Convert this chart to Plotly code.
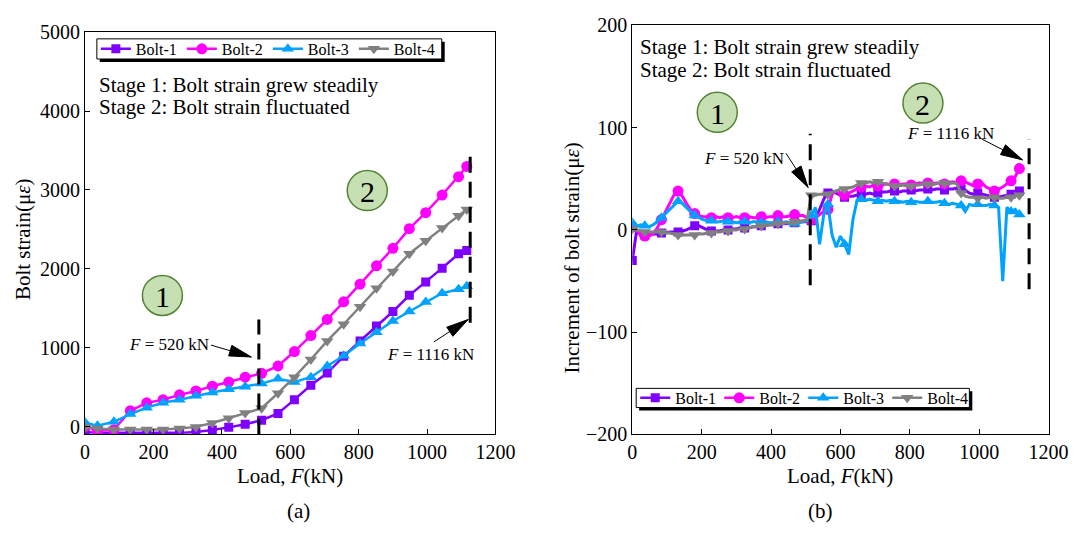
import math
import plotly.graph_objects as go

# ---------------- data (a): bolt strain vs load ----------------
LOAD = [0, 36, 84, 132, 180, 228, 276, 324, 372, 420, 468, 516, 564, 612, 660,
        708, 756, 804, 852, 900, 948, 996, 1044, 1092, 1116]
STRAIN_B1 = [-70, -80, -80, -80, -80, -80, -80, -70, -45, -10, 30, 80, 167, 341, 524,
             679, 890, 1085, 1276, 1459, 1663, 1833, 2008, 2191, 2232]
STRAIN_B2 = [0, -50, -40, 200, 301, 341, 402, 451, 512, 565, 626, 675, 768, 951, 1154,
             1358, 1581, 1805, 2037, 2260, 2508, 2711, 2935, 3167, 3297]
STRAIN_B3 = [50, 10, 60, 159, 240, 301, 341, 390, 431, 472, 504, 545, 606, 565, 626,
             768, 898, 1053, 1195, 1338, 1459, 1580, 1690, 1740, 1780]
STRAIN_B4 = [-4, -24, -37, -37, -37, -37, -24, -4, 45, 106, 171, 232, 423, 626, 850,
             1085, 1297, 1520, 1752, 1967, 2191, 2354, 2516, 2671, 2752]

# ---------------- data (b): increment of bolt strain ----------------
LOAD_INC = [0, 12, 24, 36, 48, 60, 72, 84, 96, 108,
            120, 132, 144, 156, 168, 180, 192, 204, 216, 228,
            240, 252, 264, 276, 288, 300, 312, 324, 336, 348,
            360, 372, 384, 396, 408, 420, 432, 444, 456, 468,
            480, 492, 504, 516, 528, 540, 552, 564, 576, 588,
            600, 612, 624, 636, 648, 660, 672, 684, 696, 708,
            720, 732, 744, 756, 768, 780, 792, 804, 816, 828,
            840, 852, 864, 876, 888, 900, 912, 924, 936, 948,
            960, 972, 984, 996, 1008, 1020, 1032, 1044, 1056, 1068,
            1080, 1092, 1104, 1116]
INC_B1 = [-30, -2, -4, -5, -5, -4, -4, -3, -3, -2,
          -2, -2, -1, 0, 2, 4, 4, 2, 0, -1,
          -1, -1, 0, 0, 1, 1, 2, 2, 2, 3,
          3, 4, 4, 5, 5, 6, 6, 6, 7, 7,
          8, 8, 8, 9, 12, 20, 30, 36, 38, 36,
          34, 32, 33, 33, 34, 35, 35, 36, 35, 36,
          37, 37, 38, 38, 37, 38, 38, 39, 38, 39,
          39, 40, 39, 40, 40, 39, 40, 40, 41, 40,
          39, 36, 35, 36, 35, 34, 33, 32, 32, 33,
          34, 35, 37, 38]
INC_B2 = [3, 0, -5, -6, -6, -4, 2, 10, 18, 27,
          34, 38, 33, 26, 20, 16, 14, 13, 13, 12,
          13, 12, 13, 12, 12, 13, 12, 12, 13, 12,
          12, 13, 12, 13, 13, 14, 13, 13, 14, 15,
          14, 14, 12, 10, 12, 15, 18, 20, 35, 38,
          36, 34, 36, 38, 40, 42, 43, 42, 44, 43,
          44, 45, 44, 45, 44, 45, 45, 44, 45, 46,
          45, 46, 45, 46, 46, 45, 46, 47, 46, 48,
          47, 45, 43, 45, 46, 42, 40, 38, 40, 42,
          45, 48, 52, 60]
INC_B3 = [7, 3, 5, 4, 3, 5, 8, 12, 16, 21,
          25, 28, 26, 22, 17, 14, 12, 10, 9, 9,
          8, 8, 9, 8, 8, 7, 8, 8, 7, 8,
          8, 7, 8, 7, 7, 8, 7, 8, 7, 6,
          7, 8, 9, 14, 22, -14, 15, 25, -5, -17,
          -6, -14, -24, 10, 29, 30, 29, 30, 29, 28,
          29, 28, 29, 28, 28, 27, 28, 27, 28, 27,
          27, 28, 27, 27, 28, 26, 25, 26, 25, 24,
          18, 25, 24, 25, 24, 24, 25, 24, 22, -50,
          22, 18, 20, 15]
INC_B4 = [1, 0, -1, -2, -2, -2, -2, -2, -3, -3,
          -4, -5, -5, -5, -5, -5, -4, -4, -3, -3,
          -2, -2, -1, -1, 0, 0, 1, 1, 2, 3,
          3, 4, 4, 5, 5, 6, 6, 7, 7, 8,
          8, 9, 10, 34, 34, 35, 35, 35, 37, 38,
          40, 40, 41, 42, 44, 46, 46, 47, 46, 47,
          46, 45, 44, 43, 43, 44, 43, 43, 44, 44,
          45, 45, 44, 45, 46, 46, 45, 46, 45, 36,
          33, 32, 32, 31, 32, 31, 32, 32, 31, 31,
          32, 32, 33, 34]

NAMES = ["Bolt-1", "Bolt-2", "Bolt-3", "Bolt-4"]
COLORS = ["#7F00FF", "#FF00FF", "#00A2FF", "#808080"]
SYMBOLS = ["square", "circle", "triangle-up", "triangle-down"]
SIZES = [9, 11, 11, 11]

W, H = 1091, 553
FONT = "Liberation Serif"

# plot-area geometry (pixels)
L_X0, L_X1, L_Y0, L_Y1 = 82, 502, 441, 22
R_X0, R_X1, R_Y0, R_Y1 = 642, 1068, 441, 15
XR = [0, 1200]
YR_L = [-100, 5000]
YR_R = [-200, 200]


def px_x(p):
    return p / W


def px_y(p):
    return 1 - p / H


fig = go.Figure()

strain = [STRAIN_B1, STRAIN_B2, STRAIN_B3, STRAIN_B4]
inc = [INC_B1, INC_B2, INC_B3, INC_B4]
mark_idx = [i for i, x in enumerate(LOAD_INC) if x in LOAD]

for k in range(4):
    fig.add_trace(go.Scatter(
        x=LOAD, y=strain[k], name=NAMES[k], mode="lines+markers",
        line=dict(color=COLORS[k], width=2.5),
        marker=dict(symbol=SYMBOLS[k], size=SIZES[k], color=COLORS[k]),
        xaxis="x", yaxis="y", legend="legend"))

for k in range(4):
    fig.add_trace(go.Scatter(
        x=LOAD_INC, y=inc[k], mode="lines", showlegend=False,
        line=dict(color=COLORS[k], width=3), xaxis="x2", yaxis="y2"))
    fig.add_trace(go.Scatter(
        x=[LOAD_INC[i] for i in mark_idx], y=[inc[k][i] for i in mark_idx],
        mode="markers", showlegend=False,
        marker=dict(symbol=SYMBOLS[k], size=SIZES[k], color=COLORS[k]),
        xaxis="x2", yaxis="y2"))
for k in range(4):
    fig.add_trace(go.Scatter(
        x=[None], y=[None], name=NAMES[k], mode="lines+markers",
        line=dict(color=COLORS[k], width=2.5),
        marker=dict(symbol=SYMBOLS[k], size=SIZES[k], color=COLORS[k]),
        xaxis="x2", yaxis="y2", legend="legend2"))

axis_common = dict(showline=True, linecolor="black", linewidth=1, mirror=True,
                   ticks="inside", ticklen=5, tickwidth=1, tickcolor="black",
                   showgrid=False, zeroline=False,
                   tickfont=dict(family=FONT, size=20, color="black"))

legend_common = dict(orientation="h", xanchor="left", yanchor="middle",
                     bgcolor="rgba(0,0,0,0)", borderwidth=0,
                     font=dict(family=FONT, size=16, color="black"),
                     itemwidth=30, tracegroupgap=0)

fig.update_layout(
    width=W, height=H, margin=dict(l=0, r=0, t=0, b=0),
    paper_bgcolor="white", plot_bgcolor="white",
    font=dict(family=FONT, color="black"),
    xaxis=dict(domain=[px_x(L_X0), px_x(L_X1)], range=XR, dtick=200, anchor="y",
               **axis_common),
    yaxis=dict(domain=[px_y(L_Y0), px_y(L_Y1)], range=YR_L, dtick=1000, anchor="x",
               **axis_common),
    xaxis2=dict(domain=[px_x(R_X0), px_x(R_X1)], range=XR, dtick=200, anchor="y2",
                **axis_common),
    yaxis2=dict(domain=[px_y(R_Y0), px_y(R_Y1)], range=YR_R, dtick=100, anchor="x2",
                **axis_common),
    legend=dict(x=px_x(93), y=px_y(39.5), entrywidth=41, **legend_common),
    legend2=dict(x=px_x(645), y=px_y(403), entrywidth=39, **legend_common),
)

ann = []
shapes = []

# legend frames with drop shadow
for (x0, y0, x1, y1) in [(94, 29, 447, 50), (646, 393, 987, 413)]:
    shapes.append(dict(type="rect", xref="paper", yref="paper",
                       x0=px_x(x0 + 3), x1=px_x(x1 + 3), y0=px_y(y1 + 3), y1=px_y(y0 + 3),
                       fillcolor="black", line=dict(width=0), layer="above"))
    shapes.append(dict(type="rect", xref="paper", yref="paper",
                       x0=px_x(x0), x1=px_x(x1), y0=px_y(y1), y1=px_y(y0),
                       fillcolor="white", line=dict(color="black", width=1), layer="above"))


def text(xp, yp, s, size=21, xanchor="center", textangle=0):
    ann.append(dict(x=px_x(xp), y=px_y(yp), xref="paper", yref="paper", text=s,
                    showarrow=False, xanchor=xanchor, yanchor="middle",
                    textangle=textangle,
                    font=dict(family=FONT, size=size, color="black")))


# axis titles and captions
text(292, 484, "Load, <i>F</i>(kN)")
text(855, 484, "Load, <i>F</i>(kN)")
text(18, 238, "Bolt strain(μ<i>ε</i>)", textangle=-90)
text(580, 257, "Increment of bolt strain(μ<i>ε</i>)", textangle=-90)
text(300, 521, "(a)")
text(835, 521, "(b)")

# stage notes
text(94, 77, "Stage 1: Bolt strain grew steadily", xanchor="left")
text(94, 100, "Stage 2: Bolt strain fluctuated", xanchor="left")
text(648, 37, "Stage 1: Bolt strain grew steadily", xanchor="left")
text(648, 61, "Stage 2: Bolt strain fluctuated", xanchor="left")


def circle(xr, yr, xv, yv, label):
    shapes.append(dict(type="circle", xref=xr, yref=yr, xsizemode="pixel", ysizemode="pixel",
                       xanchor=xv, yanchor=yv, x0=-20, x1=20, y0=-20, y1=20,
                       fillcolor="#C6E0B4", line=dict(color="#548235", width=1.5), layer="above"))
    ann.append(dict(x=xv, y=yv, xref=xr, yref=yr, text=label, showarrow=False,
                    font=dict(family=FONT, size=30, color="black"), yshift=-1))


circle("x", "y", 226, 1662, "1")
circle("x", "y", 825, 2991, "2")
circle("x2", "y2", 245, 115, "1")
circle("x2", "y2", 838, 124, "2")


def vdash(xr, yr, xv, y0, y1):
    shapes.append(dict(type="line", xref=xr, yref=yr, x0=xv, x1=xv, y0=y0, y1=y1,
                       line=dict(color="black", width=3, dash="16px,9px"), layer="above"))


vdash("x", "y", 508, -100, 1357)
vdash("x", "y", 1126, 1317, 3472)
vdash("x2", "y2", 513, -54, 94)
vdash("x2", "y2", 1144, -58, 89)

SX_L = (L_X1 - L_X0) / (XR[1] - XR[0])
SY_L = (L_Y0 - L_Y1) / (YR_L[1] - YR_L[0])
SX_R = (R_X1 - R_X0) / (XR[1] - XR[0])
SY_R = (R_Y0 - R_Y1) / (YR_R[1] - YR_R[0])


def arrow(xr, yr, sx, sy, tail, head, label, lxy):
    shapes.append(dict(type="line", xref=xr, yref=yr, x0=tail[0], y0=tail[1],
                       x1=head[0], y1=head[1], line=dict(color="black", width=1),
                       layer="above"))
    dx = (head[0] - tail[0]) * sx
    dy = (head[1] - tail[1]) * sy
    n = math.hypot(dx, dy)
    ux, uy = dx / n, dy / n
    ln, wd = 22, 11
    bx, by = -ln * ux, -ln * uy
    p1 = (bx - wd / 2 * uy, by + wd / 2 * ux)
    p2 = (bx + wd / 2 * uy, by - wd / 2 * ux)
    path = "M0,0 L{:.2f},{:.2f} L{:.2f},{:.2f} Z".format(p1[0], p1[1], p2[0], p2[1])
    shapes.append(dict(type="path", xref=xr, yref=yr, xsizemode="pixel", ysizemode="pixel",
                       xanchor=head[0], yanchor=head[1], path=path,
                       fillcolor="black", line=dict(color="black", width=1), layer="above"))
    ann.append(dict(x=lxy[0], y=lxy[1], xref=xr, yref=yr, text=label, showarrow=False,
                    font=dict(family=FONT, size=17, color="black")))


arrow("x", "y", SX_L, SY_L, (368, 1033), (486, 882), "<i>F</i> = 520 kN", (244, 1040))
arrow("x", "y", SX_L, SY_L, (1020, 1073), (1120, 1357), "<i>F</i> = 1116 kN", (1011, 911))
arrow("x2", "y2", SX_R, SY_R, (443, 75), (507, 41.5), "<i>F</i> = 520 kN", (321, 70))
arrow("x2", "y2", SX_R, SY_R, (1007, 89), (1125, 68.5), "<i>F</i> = 1116 kN", (918, 94.5))

fig.update_layout(annotations=ann, shapes=shapes)
fig.write_html("out.html")
